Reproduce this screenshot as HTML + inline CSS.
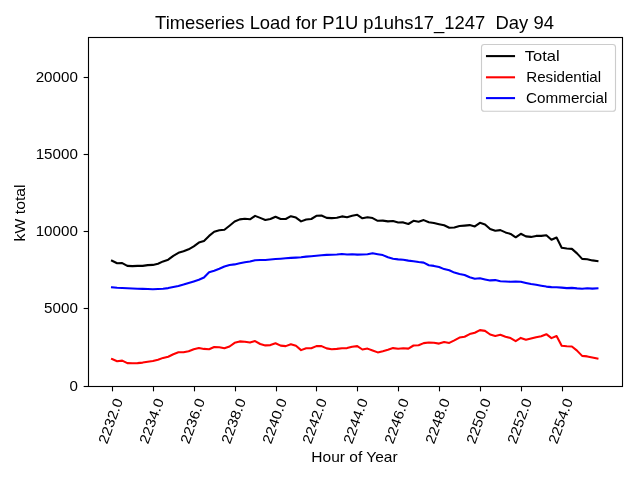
<!DOCTYPE html><html><head><meta charset="utf-8"><style>html,body{margin:0;padding:0;background:#fff;width:640px;height:480px;overflow:hidden}svg{display:block;will-change:transform;font-family:"Liberation Sans",sans-serif}</style></head><body><svg width="640" height="480" viewBox="0 0 640 480" font-family="Liberation Sans, sans-serif" fill="#000"><rect x="0" y="0" width="640" height="480" fill="#fff"/>
<polyline points="112.00,260.70 117.11,263.30 122.22,263.10 127.33,265.90 132.44,266.10 137.55,265.90 142.66,265.90 147.77,265.10 152.88,264.90 157.99,263.70 163.10,261.40 168.21,259.70 173.32,255.90 178.43,252.80 183.54,251.30 188.65,249.30 193.76,246.30 198.87,242.55 203.98,240.90 209.09,235.90 214.20,231.80 219.31,230.30 224.42,229.70 229.53,225.70 234.64,221.55 239.75,219.40 244.86,218.80 249.97,219.30 255.08,215.90 260.19,217.90 265.30,220.00 270.41,219.00 275.52,216.70 280.63,219.00 285.74,219.00 290.85,216.20 295.96,217.60 301.07,221.40 306.18,219.50 311.29,219.00 316.40,215.80 321.51,215.50 326.62,217.90 331.73,218.10 336.84,217.70 341.95,216.40 347.06,217.20 352.17,215.80 357.28,214.80 362.39,218.30 367.50,217.20 372.61,218.10 377.72,220.80 382.83,220.60 387.94,221.40 393.05,221.00 398.16,222.50 403.27,222.40 408.38,224.00 413.49,220.80 418.60,221.70 423.71,220.10 428.82,222.20 433.93,223.10 439.04,224.20 444.15,225.30 449.26,227.70 454.37,227.50 459.48,226.00 464.59,225.60 469.70,225.10 474.81,226.40 479.92,222.80 485.03,224.40 490.14,229.00 495.25,230.70 500.36,230.10 505.47,232.40 510.58,233.90 515.69,237.30 520.80,233.80 525.91,236.40 531.02,236.90 536.13,235.90 541.24,235.90 546.35,235.20 551.46,239.80 556.57,237.50 561.68,247.80 566.79,248.50 571.90,248.90 577.01,253.40 582.12,258.90 587.23,259.30 592.34,260.40 597.45,261.10" fill="none" stroke="#000000" stroke-width="2.08" stroke-linejoin="round" stroke-linecap="square"/>
<polyline points="112.00,359.00 117.11,361.20 122.22,360.60 127.33,363.10 132.44,363.30 137.55,363.10 142.66,362.60 147.77,361.70 152.88,361.00 157.99,359.80 163.10,357.90 168.21,356.70 173.32,354.20 178.43,352.30 183.54,352.30 188.65,351.20 193.76,349.20 198.87,348.00 203.98,348.90 209.09,349.20 214.20,347.00 219.31,347.30 224.42,348.30 229.53,346.50 234.64,342.80 239.75,341.40 244.86,341.70 249.97,342.60 255.08,341.10 260.19,344.00 265.30,345.40 270.41,345.10 275.52,343.30 280.63,345.60 285.74,346.10 290.85,344.20 295.96,345.80 301.07,350.10 306.18,348.20 311.29,348.20 316.40,346.10 321.51,346.10 326.62,348.40 331.73,349.20 336.84,348.90 341.95,348.20 347.06,348.10 352.17,346.80 357.28,346.10 362.39,349.50 367.50,348.60 372.61,350.50 377.72,352.40 382.83,351.20 387.94,349.80 393.05,348.10 398.16,348.70 403.27,348.20 408.38,348.60 413.49,345.50 418.60,345.30 423.71,343.10 428.82,342.50 433.93,342.80 439.04,343.60 444.15,342.00 449.26,342.90 454.37,340.40 459.48,337.60 464.59,336.70 469.70,334.10 474.81,332.70 479.92,330.10 485.03,330.90 490.14,334.50 495.25,336.00 500.36,334.80 505.47,336.70 510.58,338.10 515.69,341.10 520.80,337.90 525.91,339.70 531.02,338.40 536.13,337.20 541.24,336.20 546.35,334.20 551.46,338.10 556.57,336.00 561.68,345.80 566.79,346.30 571.90,346.55 577.01,350.60 582.12,355.90 587.23,356.40 592.34,357.50 597.45,358.55" fill="none" stroke="#ff0000" stroke-width="2.08" stroke-linejoin="round" stroke-linecap="square"/>
<polyline points="112.00,287.40 117.11,287.80 122.22,288.05 127.33,288.30 132.44,288.55 137.55,288.80 142.66,288.90 147.77,289.05 152.88,289.20 157.99,289.00 163.10,288.70 168.21,288.10 173.32,287.00 178.43,285.90 183.54,284.50 188.65,282.90 193.76,281.40 198.87,279.80 203.98,277.50 209.09,272.20 214.20,270.70 219.31,268.80 224.42,266.55 229.53,265.05 234.64,264.40 239.75,263.20 244.86,262.20 249.97,261.55 255.08,260.30 260.19,260.00 265.30,260.00 270.41,259.50 275.52,259.00 280.63,258.70 285.74,258.30 290.85,257.90 295.96,257.60 301.07,257.20 306.18,256.60 311.29,256.20 316.40,255.70 321.51,255.20 326.62,254.90 331.73,254.70 336.84,254.50 341.95,254.00 347.06,254.50 352.17,254.20 357.28,254.60 362.39,254.50 367.50,254.20 372.61,253.20 377.72,254.20 382.83,255.10 387.94,257.30 393.05,258.70 398.16,259.40 403.27,259.80 408.38,260.60 413.49,261.20 418.60,262.00 423.71,262.60 428.82,265.20 433.93,265.90 439.04,267.00 444.15,269.10 449.26,270.30 454.37,272.60 459.48,274.00 464.59,275.00 469.70,277.30 474.81,278.70 479.92,278.30 485.03,279.40 490.14,280.40 495.25,280.10 500.36,281.20 505.47,281.50 510.58,281.70 515.69,281.50 520.80,281.70 525.91,282.90 531.02,284.00 536.13,284.70 541.24,285.70 546.35,286.60 551.46,287.10 556.57,287.20 561.68,287.60 566.79,288.10 571.90,287.90 577.01,288.40 582.12,288.70 587.23,288.20 592.34,288.60 597.45,288.30" fill="none" stroke="#0000ff" stroke-width="2.08" stroke-linejoin="round" stroke-linecap="square"/>
<rect x="88.5" y="37.5" width="534.0" height="349.0" fill="none" stroke="#000" stroke-width="1.11" stroke-linecap="square"/>
<line x1="83.64" y1="386.5" x2="88.5" y2="386.5" stroke="#000" stroke-width="1.11"/>
<text x="77.9" y="391.45" text-anchor="end" font-size="13.9" textLength="8.4" lengthAdjust="spacingAndGlyphs">0</text>
<line x1="83.64" y1="308.5" x2="88.5" y2="308.5" stroke="#000" stroke-width="1.11"/>
<text x="77.9" y="313.45" text-anchor="end" font-size="13.9" textLength="33.8" lengthAdjust="spacingAndGlyphs">5000</text>
<line x1="83.64" y1="231.5" x2="88.5" y2="231.5" stroke="#000" stroke-width="1.11"/>
<text x="77.9" y="236.45" text-anchor="end" font-size="13.9" textLength="42.2" lengthAdjust="spacingAndGlyphs">10000</text>
<line x1="83.64" y1="154.5" x2="88.5" y2="154.5" stroke="#000" stroke-width="1.11"/>
<text x="77.9" y="159.45" text-anchor="end" font-size="13.9" textLength="42.2" lengthAdjust="spacingAndGlyphs">15000</text>
<line x1="83.64" y1="77.5" x2="88.5" y2="77.5" stroke="#000" stroke-width="1.11"/>
<text x="77.9" y="82.45" text-anchor="end" font-size="13.9" textLength="42.2" lengthAdjust="spacingAndGlyphs">20000</text>
<line x1="112.5" y1="386.5" x2="112.5" y2="391.36" stroke="#000" stroke-width="1.11"/>
<g transform="translate(123.1,400.5) rotate(-70)"><text x="0" y="0" text-anchor="end" font-size="13.9" textLength="47" lengthAdjust="spacingAndGlyphs" dy="0">2232.0</text></g>
<line x1="153.5" y1="386.5" x2="153.5" y2="391.36" stroke="#000" stroke-width="1.11"/>
<g transform="translate(164.1,400.5) rotate(-70)"><text x="0" y="0" text-anchor="end" font-size="13.9" textLength="47" lengthAdjust="spacingAndGlyphs" dy="0">2234.0</text></g>
<line x1="194.5" y1="386.5" x2="194.5" y2="391.36" stroke="#000" stroke-width="1.11"/>
<g transform="translate(205.1,400.5) rotate(-70)"><text x="0" y="0" text-anchor="end" font-size="13.9" textLength="47" lengthAdjust="spacingAndGlyphs" dy="0">2236.0</text></g>
<line x1="235.5" y1="386.5" x2="235.5" y2="391.36" stroke="#000" stroke-width="1.11"/>
<g transform="translate(246.1,400.5) rotate(-70)"><text x="0" y="0" text-anchor="end" font-size="13.9" textLength="47" lengthAdjust="spacingAndGlyphs" dy="0">2238.0</text></g>
<line x1="276.5" y1="386.5" x2="276.5" y2="391.36" stroke="#000" stroke-width="1.11"/>
<g transform="translate(287.1,400.5) rotate(-70)"><text x="0" y="0" text-anchor="end" font-size="13.9" textLength="47" lengthAdjust="spacingAndGlyphs" dy="0">2240.0</text></g>
<line x1="316.5" y1="386.5" x2="316.5" y2="391.36" stroke="#000" stroke-width="1.11"/>
<g transform="translate(327.1,400.5) rotate(-70)"><text x="0" y="0" text-anchor="end" font-size="13.9" textLength="47" lengthAdjust="spacingAndGlyphs" dy="0">2242.0</text></g>
<line x1="357.5" y1="386.5" x2="357.5" y2="391.36" stroke="#000" stroke-width="1.11"/>
<g transform="translate(368.1,400.5) rotate(-70)"><text x="0" y="0" text-anchor="end" font-size="13.9" textLength="47" lengthAdjust="spacingAndGlyphs" dy="0">2244.0</text></g>
<line x1="398.5" y1="386.5" x2="398.5" y2="391.36" stroke="#000" stroke-width="1.11"/>
<g transform="translate(409.1,400.5) rotate(-70)"><text x="0" y="0" text-anchor="end" font-size="13.9" textLength="47" lengthAdjust="spacingAndGlyphs" dy="0">2246.0</text></g>
<line x1="439.5" y1="386.5" x2="439.5" y2="391.36" stroke="#000" stroke-width="1.11"/>
<g transform="translate(450.1,400.5) rotate(-70)"><text x="0" y="0" text-anchor="end" font-size="13.9" textLength="47" lengthAdjust="spacingAndGlyphs" dy="0">2248.0</text></g>
<line x1="480.5" y1="386.5" x2="480.5" y2="391.36" stroke="#000" stroke-width="1.11"/>
<g transform="translate(491.1,400.5) rotate(-70)"><text x="0" y="0" text-anchor="end" font-size="13.9" textLength="47" lengthAdjust="spacingAndGlyphs" dy="0">2250.0</text></g>
<line x1="521.5" y1="386.5" x2="521.5" y2="391.36" stroke="#000" stroke-width="1.11"/>
<g transform="translate(532.1,400.5) rotate(-70)"><text x="0" y="0" text-anchor="end" font-size="13.9" textLength="47" lengthAdjust="spacingAndGlyphs" dy="0">2252.0</text></g>
<line x1="562.5" y1="386.5" x2="562.5" y2="391.36" stroke="#000" stroke-width="1.11"/>
<g transform="translate(573.1,400.5) rotate(-70)"><text x="0" y="0" text-anchor="end" font-size="13.9" textLength="47" lengthAdjust="spacingAndGlyphs" dy="0">2254.0</text></g>
<text x="155.1" y="28.9" font-size="17.8" textLength="398.8" lengthAdjust="spacingAndGlyphs" xml:space="preserve">Timeseries Load for P1U p1uhs17_1247  Day 94</text>
<text x="311.3" y="462" font-size="13.9" textLength="86.3" lengthAdjust="spacingAndGlyphs">Hour of Year</text>
<g transform="translate(25.2,241.4) rotate(-90)"><text x="0" y="0" font-size="13.9" textLength="57" lengthAdjust="spacingAndGlyphs">kW total</text></g>
<rect x="481.5" y="44.5" width="134" height="66.75" rx="2.8" ry="2.8" fill="#fff" fill-opacity="0.8" stroke="#cccccc" stroke-width="1.11"/>
<line x1="487" y1="56.1" x2="514" y2="56.1" stroke="#000000" stroke-width="2.08" stroke-linecap="square"/>
<text x="524.8" y="61.050000000000004" font-size="13.9" textLength="34.8" lengthAdjust="spacingAndGlyphs">Total</text>
<line x1="487" y1="77.3" x2="514" y2="77.3" stroke="#ff0000" stroke-width="2.08" stroke-linecap="square"/>
<text x="526.2" y="82.25" font-size="13.9" textLength="75.0" lengthAdjust="spacingAndGlyphs">Residential</text>
<line x1="487" y1="98.1" x2="514" y2="98.1" stroke="#0000ff" stroke-width="2.08" stroke-linecap="square"/>
<text x="526.0" y="103.05" font-size="13.9" textLength="81.3" lengthAdjust="spacingAndGlyphs">Commercial</text></svg></body></html>
